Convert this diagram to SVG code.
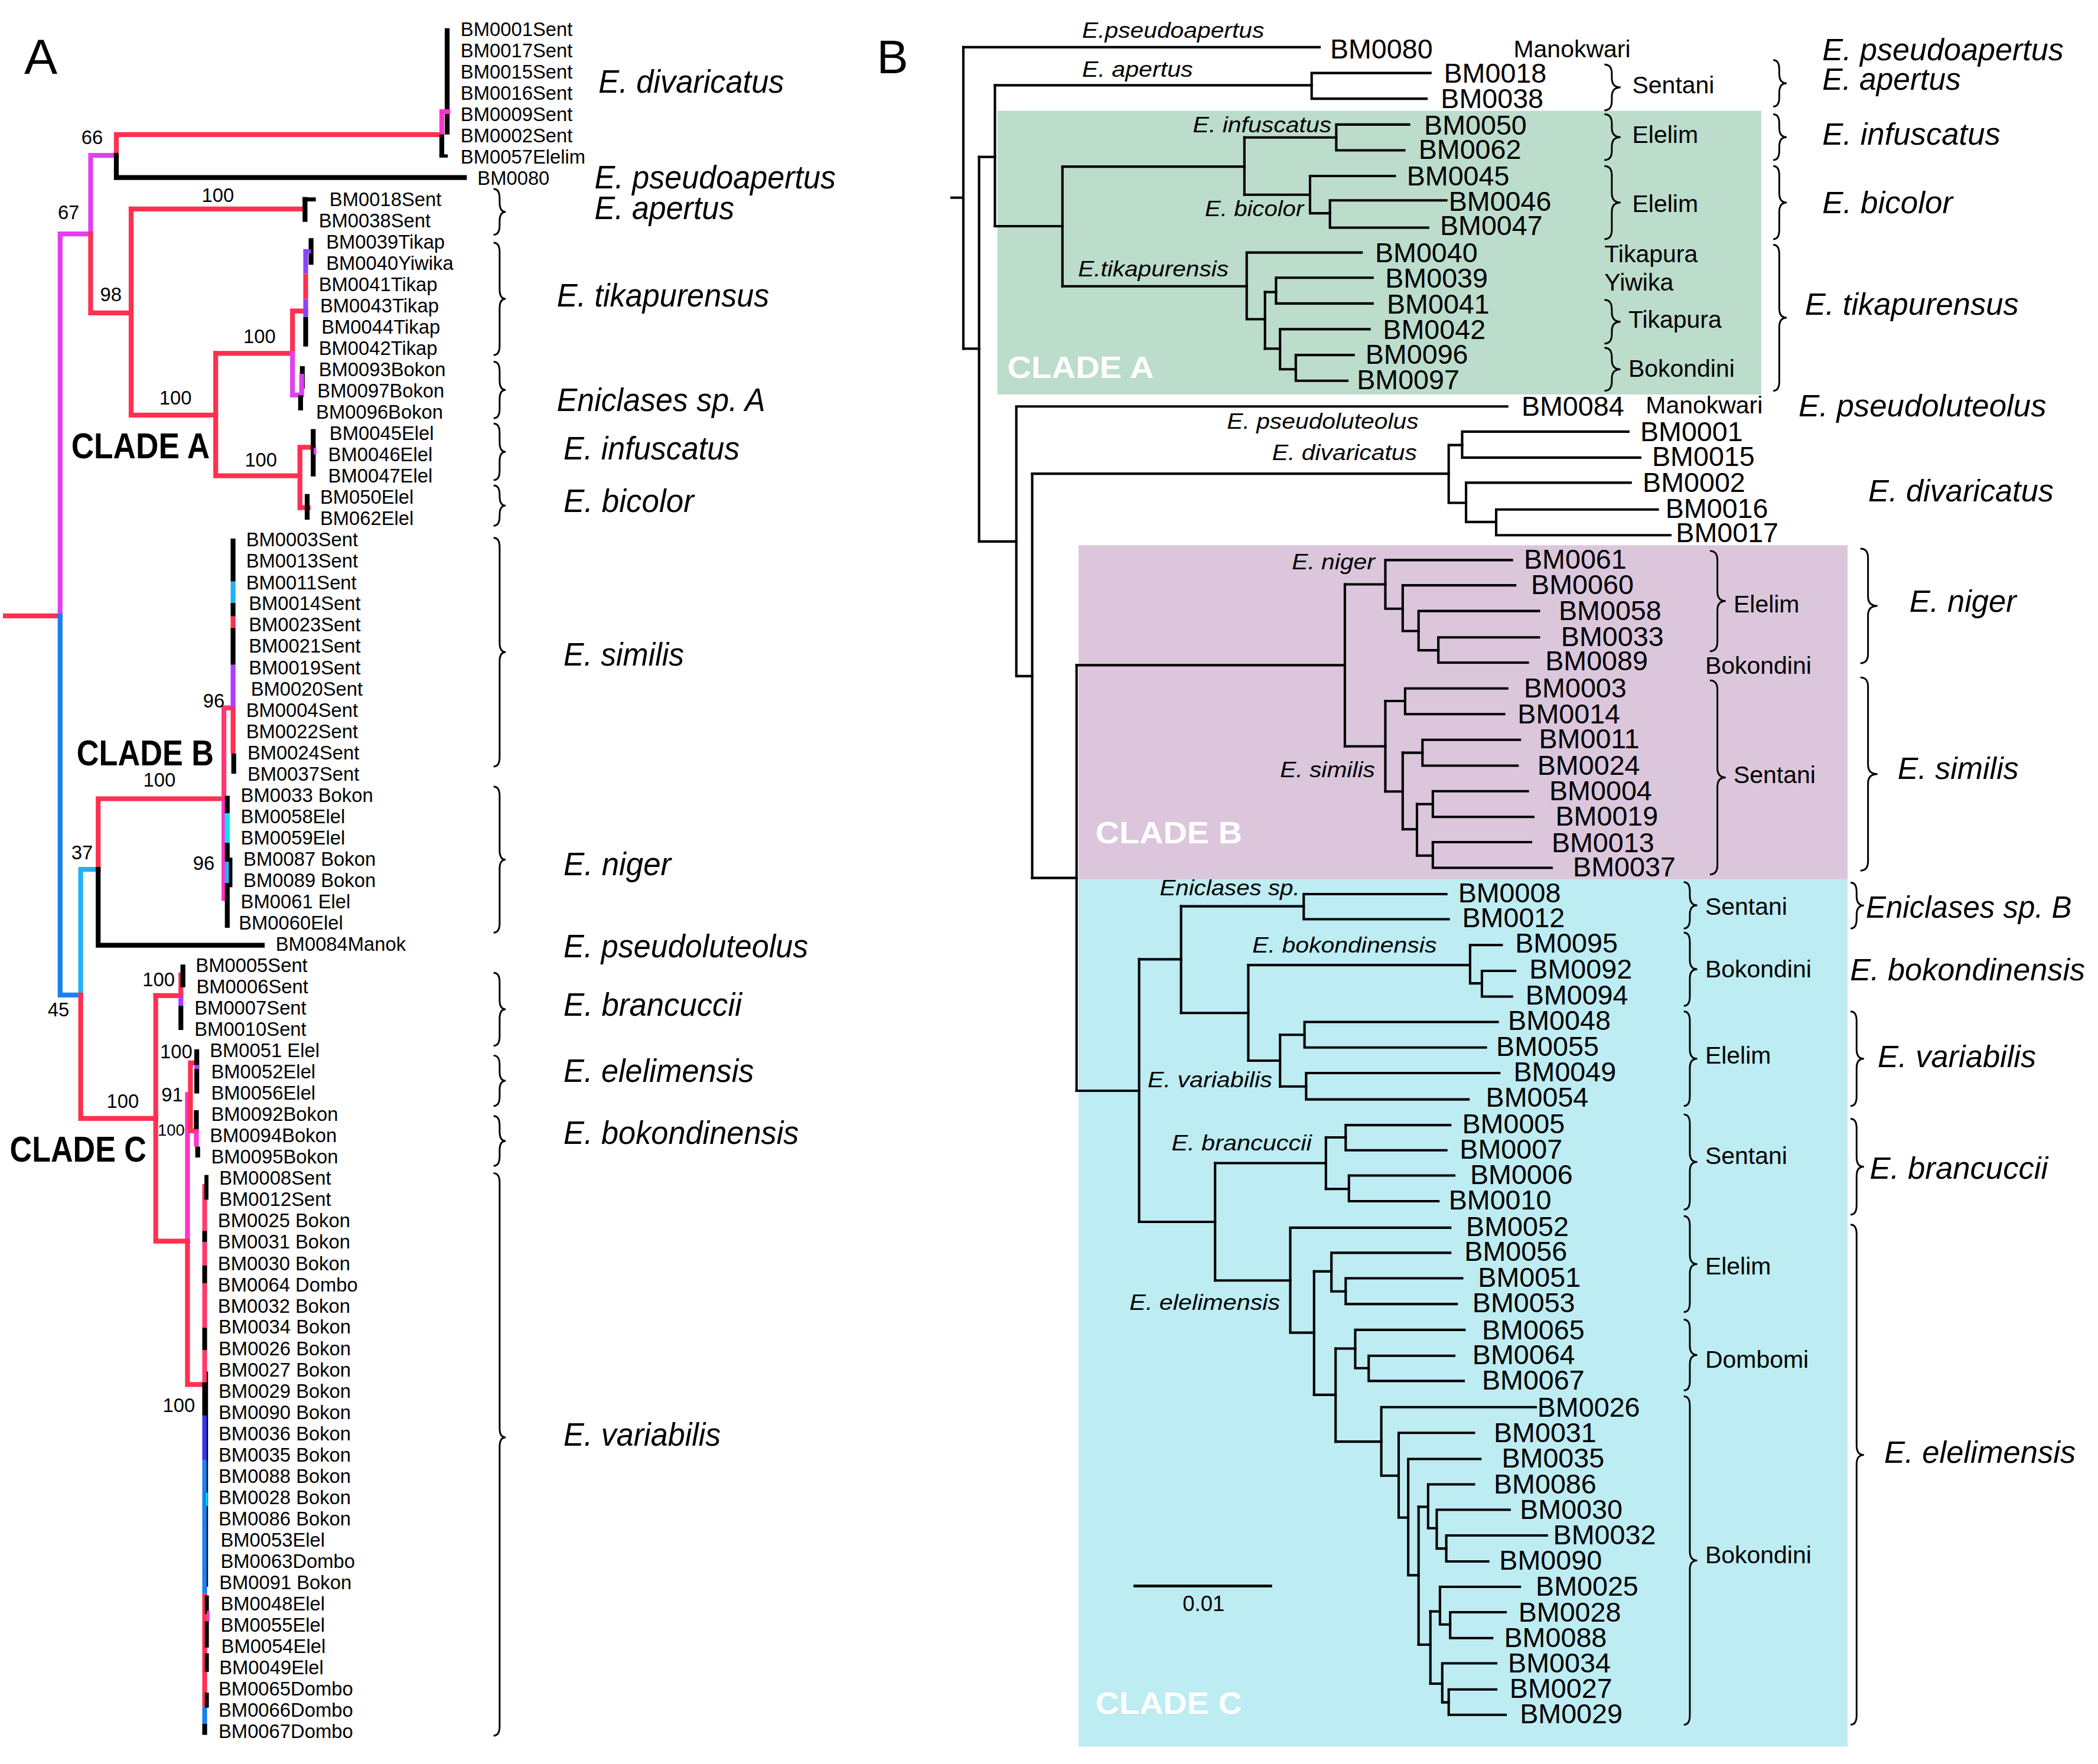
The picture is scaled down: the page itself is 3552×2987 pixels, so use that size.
<svg xmlns="http://www.w3.org/2000/svg" width="3552" height="2987" viewBox="0 0 3552 2987">
<style>
text{font-family:"Liberation Sans",Arial,Helvetica,sans-serif;fill:#000}
.la{font-size:14.4px}
.sv{font-size:14.4px;text-anchor:middle}
.sa{font-size:24px;font-style:italic}
.cl{font-size:27px;font-weight:bold}
.lb{font-size:20.5px}
.ib{font-size:16.5px;font-style:italic}
.loc{font-size:18px}
.sb{font-size:23px;font-style:italic}
.wc{font-size:22.5px;font-weight:bold;fill:#fff}
.br{fill:none;stroke:#000;stroke-width:1.3}
.ta{fill:none;stroke-width:3.6;stroke-linecap:square;stroke-linejoin:miter}
.sg{fill:none;stroke-width:3.6;stroke-linecap:butt}
.tb{fill:none;stroke:#000;stroke-width:1.8;stroke-linecap:square}
.r{stroke:#ff3050}.m{stroke:#e040f0}.k{stroke:#000}.bu{stroke:#1a80f0}.lc{stroke:#22b0f5}.cy{stroke:#00e5ff}.pu{stroke:#8844ff}.vi{stroke:#b03cff}.pk{stroke:#ff3a6e}.hp{stroke:#ff33cc}.db{stroke:#3535ee}
</style>
<rect x="0" y="0" width="3552" height="2987" fill="#fff"/>
<g transform="scale(2.276923)">

<!-- ================= PANEL A ================= -->
<text x="18" y="55" style="font-size:37px">A</text>

<g id="A-connectors">
<path class="ta r" d="M4,458H44.7"/>
<path class="ta m" d="M44.7,458V174H67.4V115.6H86.5"/>
<path class="ta r" d="M86.5,115.6V100.1H328.5"/>
<path class="ta k" d="M86.5,115.6V132H345.3"/>
<path class="ta r" d="M67.4,174V232.7H97.5"/>
<path class="ta r" d="M97.5,155.4V308.7H160.4"/>
<path class="ta r" d="M97.5,155.4H225.4"/>
<path class="ta r" d="M160.4,262.8V353.8H223"/>
<path class="ta r" d="M160.4,262.8H217.5V231.3H227.3"/>
<path class="ta m" d="M217.5,262.8V293.8H224.3"/>
<path class="ta r" d="M233,332.6H223V377.5H229.1"/>
<path class="ta bu" d="M44.7,458V740H60"/>
<path class="ta lc" d="M60,740V646.5H73"/>
<path class="ta r" d="M60,740V831.8H115.8"/>
<path class="ta r" d="M73,646.5V594H166.5"/>
<path class="ta k" d="M73,646.5V703H195"/>
<path class="ta pk" d="M166.5,594V526.4H173.3"/>
<path class="sg hp" d="M166.5,594V670"/>
<path class="sg hp" d="M166.5,656.8H171"/>
<path class="ta r" d="M115.8,740.4V923H139.4"/>
<path class="ta r" d="M115.8,740.4H134.5"/>
<path class="sg hp" d="M139.4,923V814H141.6"/>
<path class="ta r" d="M146.3,790.5H141.6V841H146"/>
<path class="ta r" d="M139.4,923V1029.6H150.8"/>
</g>

<g id="A-leaf-bars">
<!-- divaricatus -->
<path class="sg k" d="M332.5,21V100"/>
<path class="ta hp" d="M333,83H328.5V100"/>
<path class="sg k" d="M328.5,100V117"/>
<path class="sg k" style="stroke-width:2.4" d="M326.7,116H333"/>
<!-- apertus -->
<path class="sg k" d="M226.8,146.5V165"/>
<path class="sg k" style="stroke-width:3" d="M225,148.3H234.8"/>
<!-- tikap -->
<path class="sg pu" d="M227.3,185.2V203.5"/>
<path class="sg r" d="M227.3,203.5V222.5"/>
<path class="sg pu" d="M227.3,222.5V235.7"/>
<path class="sg k" d="M227.3,235.7V257.7"/>
<path class="sg k" d="M231.3,177.1V196.9"/>
<path class="sg pu" style="stroke-width:3" d="M227.3,187H231.3"/>
<!-- bokon A -->
<path class="sg k" d="M224.8,272.3V289"/>
<path class="sg m" d="M224.3,278V294"/>
<path class="sg k" d="M223.5,294V305.2"/>
<!-- infuscatus / bicolor -->
<path class="sg k" d="M232.9,319.1V354.3"/>
<path class="sg m" style="stroke-width:2" d="M234.2,333V338"/>
<path class="sg k" d="M228.4,367.4V386.5"/>
<!-- similis -->
<path class="sg k" d="M173.3,400.5V432.5"/>
<path class="sg lc" d="M173.3,432.5V448.4"/>
<path class="sg k" d="M173.3,448.4V458.4"/>
<path class="sg r" d="M173.3,458.4V467"/>
<path class="sg k" d="M173.3,467V494.4"/>
<path class="sg vi" d="M173.3,494.4V526.4"/>
<path class="sg r" d="M173.3,526.4V560.4"/>
<path class="sg k" d="M173.8,560.4V575.4"/>
<!-- niger -->
<path class="sg k" d="M169,591.8V604.8"/>
<path class="sg cy" d="M169,604.8V626.8"/>
<path class="sg k" d="M169,626.8V640.8"/>
<path class="sg lc" d="M169,640.8V656.8"/>
<path class="sg k" d="M169,656.8V690"/>
<path class="sg k" style="stroke-width:2.6" d="M171.5,637.8V659.8"/>
<!-- brancuccii -->
<path class="sg r" d="M134.5,723.2V741"/>
<path class="sg vi" d="M134.5,741V748"/>
<path class="sg k" d="M134.5,748V766"/>
<path class="sg k" d="M136,717.3V734.2"/>
<!-- elelimensis -->
<path class="sg k" d="M146.3,780.3V813.2"/>
<path class="sg vi" d="M146.3,792V795"/>
<!-- bokondinensis -->
<path class="sg k" d="M146,825.6V839.6"/>
<path class="sg hp" d="M146,841V852.7"/>
<path class="sg k" d="M147,852.7V860.8"/>
<!-- variabilis -->
<path class="sg pk" d="M152.2,880.6V915.4"/>
<path class="sg k" d="M152.2,915.4V923.7"/>
<path class="sg pk" d="M152.2,923.7V941.1"/>
<path class="sg k" d="M152.2,941.1V954.3"/>
<path class="sg pk" d="M152.2,954.3V987.4"/>
<path class="sg k" d="M152.2,987.4V1004"/>
<path class="sg pk" d="M152.2,1004V1028"/>
<path class="sg k" d="M152.2,1028V1053"/>
<path class="sg db" d="M152.2,1053V1086"/>
<path class="sg bu" d="M152.2,1086V1185"/>
<path class="sg r" d="M152.2,1185V1269.5"/>
<path class="sg bu" d="M152.2,1269.5V1282"/>
<path class="sg k" d="M152.2,1282V1290.2"/>
<path class="sg k" style="stroke-width:3" d="M153.5,873.8V892.2"/>
<path class="sg k" style="stroke-width:1" d="M154.2,1020V1180"/>
<path class="sg cy" style="stroke-width:1.2" d="M153.8,1110V1120"/>
<path class="sg k" style="stroke-width:3" d="M153.8,1186.5V1200.3"/>
<path class="sg hp" style="stroke-width:2" d="M154.8,1198V1206"/>
<path class="sg k" style="stroke-width:3" d="M153.8,1205.8V1225.3"/>
<path class="sg k" style="stroke-width:3" d="M153.8,1229.5V1243.4"/>
<path class="sg k" style="stroke-width:3" d="M153.8,1258.8V1270"/>
</g>

<g id="A-support" class="sv">
<text x="68.5" y="107.3">66</text>
<text x="51" y="162.8">67</text>
<text x="82.5" y="224">98</text>
<text x="162" y="150">100</text>
<text x="193" y="255">100</text>
<text x="130.5" y="301">100</text>
<text x="194" y="347">100</text>
<text x="159" y="526">96</text>
<text x="118.5" y="585">100</text>
<text x="61" y="639">37</text>
<text x="151.5" y="647">96</text>
<text x="43.5" y="756">45</text>
<text x="118" y="733.5">100</text>
<text x="131" y="787">100</text>
<text x="128" y="819">91</text>
<text x="127.3" y="844.5" style="font-size:12px">100</text>
<text x="91.3" y="824">100</text>
<text x="133" y="1050">100</text>
</g>

<g id="A-clades" class="cl">
<text x="53" y="341" textLength="103" lengthAdjust="spacingAndGlyphs">CLADE A</text>
<text x="57" y="569" textLength="102" lengthAdjust="spacingAndGlyphs">CLADE B</text>
<text x="7.3" y="864" textLength="101.6" lengthAdjust="spacingAndGlyphs">CLADE C</text>
</g>

<g id="A-leaves" class="la">
<text x="342.5" y="26.6">BM0001Sent</text>
<text x="342.5" y="42.4">BM0017Sent</text>
<text x="342.5" y="58.2">BM0015Sent</text>
<text x="342.5" y="74.1">BM0016Sent</text>
<text x="342.5" y="89.9">BM0009Sent</text>
<text x="342.5" y="105.7">BM0002Sent</text>
<text x="342.5" y="121.6">BM0057Elelim</text>
<text x="355" y="137.4">BM0080</text>
<text x="245" y="153.2">BM0018Sent</text>
<text x="237" y="169">BM0038Sent</text>
<text x="242.5" y="184.9">BM0039Tikap</text>
<text x="242.5" y="200.7">BM0040Yiwika</text>
<text x="237" y="216.5">BM0041Tikap</text>
<text x="238" y="232.3">BM0043Tikap</text>
<text x="239" y="248.2">BM0044Tikap</text>
<text x="237" y="264">BM0042Tikap</text>
<text x="237" y="279.8">BM0093Bokon</text>
<text x="236" y="295.6">BM0097Bokon</text>
<text x="235" y="311.5">BM0096Bokon</text>
<text x="245" y="327.3">BM0045Elel</text>
<text x="244" y="343.1">BM0046Elel</text>
<text x="244" y="358.9">BM0047Elel</text>
<text x="238" y="374.8">BM050Elel</text>
<text x="238" y="390.6">BM062Elel</text>
<text x="183" y="406.4">BM0003Sent</text>
<text x="183" y="422.2">BM0013Sent</text>
<text x="183" y="438.1">BM0011Sent</text>
<text x="185" y="453.9">BM0014Sent</text>
<text x="185" y="469.7">BM0023Sent</text>
<text x="185" y="485.5">BM0021Sent</text>
<text x="185" y="501.4">BM0019Sent</text>
<text x="186.5" y="517.2">BM0020Sent</text>
<text x="183" y="533">BM0004Sent</text>
<text x="183" y="548.8">BM0022Sent</text>
<text x="184" y="564.7">BM0024Sent</text>
<text x="184" y="580.5">BM0037Sent</text>
<text x="179" y="596.3">BM0033 Bokon</text>
<text x="179" y="612.1">BM0058Elel</text>
<text x="179" y="628">BM0059Elel</text>
<text x="181" y="643.8">BM0087 Bokon</text>
<text x="181" y="659.6">BM0089 Bokon</text>
<text x="179" y="675.4">BM0061 Elel</text>
<text x="177.5" y="691.3">BM0060Elel</text>
<text x="205" y="707.1">BM0084Manok</text>
<text x="145.5" y="722.9">BM0005Sent</text>
<text x="146" y="738.7">BM0006Sent</text>
<text x="144.6" y="754.6">BM0007Sent</text>
<text x="144.6" y="770.4">BM0010Sent</text>
<text x="156" y="786.2">BM0051 Elel</text>
<text x="157" y="802">BM0052Elel</text>
<text x="157" y="817.9">BM0056Elel</text>
<text x="157" y="833.7">BM0092Bokon</text>
<text x="156" y="849.5">BM0094Bokon</text>
<text x="157" y="865.3">BM0095Bokon</text>
<text x="163" y="881.2">BM0008Sent</text>
<text x="163" y="897">BM0012Sent</text>
<text x="162" y="912.8">BM0025 Bokon</text>
<text x="162" y="928.6">BM0031 Bokon</text>
<text x="162" y="944.5">BM0030 Bokon</text>
<text x="162" y="960.3">BM0064 Dombo</text>
<text x="162" y="976.1">BM0032 Bokon</text>
<text x="162.5" y="991.9">BM0034 Bokon</text>
<text x="162.5" y="1007.8">BM0026 Bokon</text>
<text x="162.5" y="1023.6">BM0027 Bokon</text>
<text x="162.5" y="1039.4">BM0029 Bokon</text>
<text x="162.5" y="1055.2">BM0090 Bokon</text>
<text x="162.5" y="1071.1">BM0036 Bokon</text>
<text x="162.5" y="1086.9">BM0035 Bokon</text>
<text x="162.5" y="1102.7">BM0088 Bokon</text>
<text x="162.5" y="1118.5">BM0028 Bokon</text>
<text x="162.5" y="1134.4">BM0086 Bokon</text>
<text x="164" y="1150.2">BM0053Elel</text>
<text x="164" y="1166">BM0063Dombo</text>
<text x="163" y="1181.8">BM0091 Bokon</text>
<text x="164" y="1197.7">BM0048Elel</text>
<text x="164" y="1213.5">BM0055Elel</text>
<text x="164.5" y="1229.3">BM0054Elel</text>
<text x="163" y="1245.1">BM0049Elel</text>
<text x="162.5" y="1261">BM0065Dombo</text>
<text x="162.5" y="1276.8">BM0066Dombo</text>
<text x="162.5" y="1292.6">BM0067Dombo</text>
</g>

<g id="A-braces" class="br">
<path d="M367,140.5 Q371.5,140.5 371.5,147.5 L371.5,150.55 Q371.5,157.55 376,157.55 Q371.5,157.55 371.5,164.55 L371.5,167.6 Q371.5,174.6 367,174.6"/>
<path d="M367,180.5 Q371.5,180.5 371.5,187.5 L371.5,215.25 Q371.5,222.25 376,222.25 Q371.5,222.25 371.5,229.25 L371.5,257 Q371.5,264 367,264"/>
<path d="M367,269 Q371.5,269 371.5,276 L371.5,283 Q371.5,290 376,290 Q371.5,290 371.5,297 L371.5,304 Q371.5,311 367,311"/>
<path d="M367,315 Q371.5,315 371.5,322 L371.5,329 Q371.5,336 376,336 Q371.5,336 371.5,343 L371.5,350 Q371.5,357 367,357"/>
<path d="M367,361 Q371.5,361 371.5,368 L371.5,369 Q371.5,376 376,376 Q371.5,376 371.5,383 L371.5,384 Q371.5,391 367,391"/>
<path d="M367,400 Q371.5,400 371.5,407 L371.5,478 Q371.5,485 376,485 Q371.5,485 371.5,492 L371.5,563 Q371.5,570 367,570"/>
<path d="M367,585 Q371.5,585 371.5,592 L371.5,632.3 Q371.5,639.3 376,639.3 Q371.5,639.3 371.5,646.3 L371.5,686.6 Q371.5,693.6 367,693.6"/>
<path d="M367,723.5 Q371.5,723.5 371.5,730.5 L371.5,743.6 Q371.5,750.6 376,750.6 Q371.5,750.6 371.5,757.6 L371.5,770.7 Q371.5,777.7 367,777.7"/>
<path d="M367,785 Q371.5,785 371.5,792 L371.5,796.75 Q371.5,803.75 376,803.75 Q371.5,803.75 371.5,810.75 L371.5,815.5 Q371.5,822.5 367,822.5"/>
<path d="M367,830 Q371.5,830 371.5,837 L371.5,841.5 Q371.5,848.5 376,848.5 Q371.5,848.5 371.5,855.5 L371.5,860 Q371.5,867 367,867"/>
<path d="M367,872.5 Q371.5,872.5 371.5,879.5 L371.5,1062 Q371.5,1069 376,1069 Q371.5,1069 371.5,1076 L371.5,1283.8 Q371.5,1290.8 367,1290.8"/>
</g>

<g id="A-species" class="sa">
<text x="445" y="69" textLength="138" lengthAdjust="spacingAndGlyphs">E. divaricatus</text>
<text x="442" y="140" textLength="179.5" lengthAdjust="spacingAndGlyphs">E. pseudoapertus</text>
<text x="442" y="163" textLength="104" lengthAdjust="spacingAndGlyphs">E. apertus</text>
<text x="414" y="228" textLength="158" lengthAdjust="spacingAndGlyphs">E. tikapurensus</text>
<text x="414" y="305.5" textLength="155" lengthAdjust="spacingAndGlyphs">Eniclases sp. A</text>
<text x="419" y="341.6" textLength="131" lengthAdjust="spacingAndGlyphs">E. infuscatus</text>
<text x="419" y="380.8" textLength="97" lengthAdjust="spacingAndGlyphs">E. bicolor</text>
<text x="419" y="495" textLength="89.6" lengthAdjust="spacingAndGlyphs">E. similis</text>
<text x="419" y="650.7" textLength="80" lengthAdjust="spacingAndGlyphs">E. niger</text>
<text x="419" y="712" textLength="182" lengthAdjust="spacingAndGlyphs">E. pseudoluteolus</text>
<text x="419" y="755.4" textLength="132.6" lengthAdjust="spacingAndGlyphs">E. brancuccii</text>
<text x="419" y="804.4" textLength="141.6" lengthAdjust="spacingAndGlyphs">E. elelimensis</text>
<text x="419" y="850.8" textLength="175" lengthAdjust="spacingAndGlyphs">E. bokondinensis</text>
<text x="419" y="1075" textLength="117" lengthAdjust="spacingAndGlyphs">E. variabilis</text>
</g>

<!-- ================= PANEL B ================= -->
<text x="652" y="54.3" style="font-size:35px">B</text>

<g id="B-clade-boxes">
<rect id="cladeA-box" x="741.6" y="82.4" width="568.1" height="211" fill="#bcdccc"/>
<rect id="cladeB-box" x="802" y="405.5" width="571.8" height="248.4" fill="#dbc6dc"/>
<rect id="cladeC-box" x="802" y="653.9" width="571.8" height="645" fill="#bdecf2"/>
<text class="wc" x="749" y="281" textLength="109" lengthAdjust="spacingAndGlyphs">CLADE A</text>
<text class="wc" x="814.6" y="627" textLength="109" lengthAdjust="spacingAndGlyphs">CLADE B</text>
<text class="wc" x="814.6" y="1274.6" textLength="109" lengthAdjust="spacingAndGlyphs">CLADE C</text>
</g>

<g id="B-connectors" class="tb">
<path d="M707.5,147H716.3"/>
<path d="M716.3,35.1V259.3"/>
<path d="M716.3,35.1H981.2"/>
<path d="M716.3,259.3H728"/>
<path d="M728,116.7V402.7"/>
<path d="M728,116.7H739.8"/>
<path d="M739.8,63.4V168.2"/>
<path d="M739.8,63.4H975.3"/>
<path d="M1063.6,54.3H975.3V73.4H1060.7"/>
<path d="M739.8,168.2H790"/>
<path d="M790,123.9V212.9"/>
<path d="M790,123.9H925.3"/>
<path d="M925.3,102.2V144.8"/>
<path d="M925.3,102.2H993.6"/>
<path d="M1047.7,92.6H993.6V111.8H1044.2"/>
<path d="M925.3,144.8H974.1"/>
<path d="M1037.1,130.9H974.1V158.6H988.9"/>
<path d="M1075.4,149H988.9V169.3H1061.9"/>
<path d="M790,212.9H927"/>
<path d="M1012.4,187.8H927V237.4H940.6"/>
<path d="M940.6,217.2V259.3"/>
<path d="M940.6,217.2H948.8"/>
<path d="M1020.6,206.5H948.8V225.7H1020.6"/>
<path d="M940.6,259.3H951.8"/>
<path d="M1018.3,244.8H951.8V274.6H963.5"/>
<path d="M1006.5,264H963.5V283.2H1001.8"/>
<path d="M728,402.7H755.7"/>
<path d="M1120.7,302.3H755.7V502.8H767.5"/>
<path d="M767.5,352.3V652.9"/>
<path d="M767.5,352.3H1077.2"/>
<path d="M1087.2,331H1077.2V374H1090.1"/>
<path d="M1210.8,321H1087.2V340.3H1219.6"/>
<path d="M1212.5,359H1090.1V388.2H1112.5"/>
<path d="M1232.6,378.9H1112.5V398H1242"/>
<path d="M767.5,652.9H800.5"/>
<path d="M800.5,494.7V811.2"/>
<path d="M800.5,494.7H1000"/>
<path d="M1000,434.6V555"/>
<path d="M1000,434.6H1030.1"/>
<path d="M1124.2,416.5H1030.1V452.7H1043"/>
<path d="M1126.6,435.3H1043V469.3H1054.8"/>
<path d="M1144.3,454.4H1054.8V483.6H1069.5"/>
<path d="M1144.3,474H1069.5V492.8H1136"/>
<path d="M1000,555H1030.1"/>
<path d="M1030.1,521.3V588.6"/>
<path d="M1120.7,512H1044.8V531.1H1118.4"/>
<path d="M1030.1,521.3H1044.8"/>
<path d="M1030.1,588.6H1043"/>
<path d="M1043,559.8V616.7"/>
<path d="M1043,559.8H1057.7"/>
<path d="M1130.1,550.2H1057.7V569.4H1128.4"/>
<path d="M1043,616.7H1053.6"/>
<path d="M1053.6,598V636.3"/>
<path d="M1053.6,598H1065.4"/>
<path d="M1136,588.4H1065.4V607.5H1140.1"/>
<path d="M1053.6,636.3H1065.4"/>
<path d="M1138.4,626.3H1065.4V645.4H1153.7"/>
<path d="M800.5,811.2H847"/>
<path d="M847,713.4V908.7"/>
<path d="M847,713.4H878.2"/>
<path d="M878.2,674V753.3"/>
<path d="M878.2,674H969.4"/>
<path d="M1075.4,664.9H969.4V683.6H1077.2"/>
<path d="M878.2,753.3H928.2"/>
<path d="M928.2,717.7V788.8"/>
<path d="M928.2,717.7H1093.1"/>
<path d="M1116.6,702.8H1093.1V731.3H1101.9"/>
<path d="M1126.6,722H1101.9V741.1H1124.2"/>
<path d="M928.2,788.8H951.8"/>
<path d="M951.8,769.6V808"/>
<path d="M951.8,769.6H970"/>
<path d="M1113.6,760H970V779H1104.8"/>
<path d="M951.8,808H971.2"/>
<path d="M1114.8,798H971.2V817.6H1091.9"/>
<path d="M847,908.7H903.5"/>
<path d="M903.5,865V952.3"/>
<path d="M903.5,865H985.9"/>
<path d="M985.9,845.9V884.2"/>
<path d="M985.9,845.9H1000.6"/>
<path d="M1078.3,836.7H1000.6V855.4H1075.4"/>
<path d="M985.9,884.2H1003"/>
<path d="M1081.3,874.2H1003V893.3H1069.5"/>
<path d="M903.5,952.3H959.4"/>
<path d="M1078.3,913H959.4V991.1H977.1"/>
<path d="M977.1,945.5V1037.3"/>
<path d="M977.1,945.5H990"/>
<path d="M1078.3,931.7H990V960.4H1000.6"/>
<path d="M1087.2,950.6H1000.6V969.8H1083.1"/>
<path d="M977.1,1037.3H993.1"/>
<path d="M993.1,1002.9V1072.1"/>
<path d="M993.1,1002.9H1007.7"/>
<path d="M1088.9,989H1007.7V1017.5H1017.7"/>
<path d="M1081.3,1008.3H1017.7V1027H1088.3"/>
<path d="M993.1,1072.1H1027.1"/>
<path d="M1141.9,1046.5H1027.1V1097.4H1040"/>
<path d="M1096,1065.6H1040V1128.6H1047.1"/>
<path d="M1100.7,1085H1047.1V1171.5H1054.8"/>
<path d="M1054.8,1120.6V1223.1"/>
<path d="M1054.8,1120.6H1061.9"/>
<path d="M1096,1103.9H1061.9V1136.5H1068.3"/>
<path d="M1122.5,1122.8H1068.3V1151.6H1075.4"/>
<path d="M1150.2,1141.9H1075.4V1161.2H1106.6"/>
<path d="M1054.8,1223.1H1063.6"/>
<path d="M1063.6,1198.4V1252.1"/>
<path d="M1063.6,1198.4H1070.7"/>
<path d="M1130.1,1180.1H1070.7V1208.1H1078.3"/>
<path d="M1119.5,1199H1078.3V1218.2H1109.5"/>
<path d="M1063.6,1252.1H1072.4"/>
<path d="M1112.5,1237H1072.4V1266H1077.2"/>
<path d="M1112.5,1256.4H1077.2V1275.3H1119.5"/>
<path d="M842.8,1179.5H945.9" style="stroke-width:2;stroke-linecap:butt"/>
</g>
<text x="879.4" y="1198" style="font-size:16px">0.01</text>

<g id="B-leaves" class="lb">
<text x="989" y="43.6">BM0080</text>
<text x="1073.6" y="61.7">BM0018</text>
<text x="1071.3" y="80.5">BM0038</text>
<text x="1058.9" y="100">BM0050</text>
<text x="1054.8" y="118.2">BM0062</text>
<text x="1046" y="138">BM0045</text>
<text x="1077.2" y="157">BM0046</text>
<text x="1070.7" y="175">BM0047</text>
<text x="1022.4" y="194.8">BM0040</text>
<text x="1030" y="214">BM0039</text>
<text x="1031.2" y="233.1">BM0041</text>
<text x="1028.3" y="252.3">BM0042</text>
<text x="1015.3" y="270.4">BM0096</text>
<text x="1008.9" y="289.5">BM0097</text>
<text x="1131.3" y="309">BM0084</text>
<text x="1219.6" y="328">BM0001</text>
<text x="1228.4" y="346.7">BM0015</text>
<text x="1221.4" y="366">BM0002</text>
<text x="1238.4" y="385.2">BM0016</text>
<text x="1246.1" y="403.3">BM0017</text>
<text x="1133.1" y="423">BM0061</text>
<text x="1138.4" y="442">BM0060</text>
<text x="1159" y="461.3">BM0058</text>
<text x="1160.7" y="480.4">BM0033</text>
<text x="1149" y="498.5">BM0089</text>
<text x="1133.1" y="518.7">BM0003</text>
<text x="1128.4" y="537.9">BM0014</text>
<text x="1144.3" y="556.6">BM0011</text>
<text x="1143.1" y="576.2">BM0024</text>
<text x="1152" y="595">BM0004</text>
<text x="1156.6" y="614.1">BM0019</text>
<text x="1153.7" y="633.7">BM0013</text>
<text x="1169.6" y="651.8">BM0037</text>
<text x="1084.2" y="670.9">BM0008</text>
<text x="1087.2" y="689.4">BM0012</text>
<text x="1126.6" y="708.5">BM0095</text>
<text x="1137.2" y="727.7">BM0092</text>
<text x="1134.3" y="746.9">BM0094</text>
<text x="1121.3" y="766">BM0048</text>
<text x="1112.5" y="785.2">BM0055</text>
<text x="1125.4" y="804">BM0049</text>
<text x="1104.8" y="822.9">BM0054</text>
<text x="1087.2" y="842.7">BM0005</text>
<text x="1085.4" y="861.8">BM0007</text>
<text x="1093.1" y="880.6">BM0006</text>
<text x="1077.2" y="899.5">BM0010</text>
<text x="1090.1" y="919.3">BM0052</text>
<text x="1088.9" y="937.8">BM0056</text>
<text x="1099" y="957.2">BM0051</text>
<text x="1094.8" y="975.7">BM0053</text>
<text x="1101.9" y="996">BM0065</text>
<text x="1094.8" y="1014.7">BM0064</text>
<text x="1101.9" y="1033.4">BM0067</text>
<text x="1143.1" y="1053.4">BM0026</text>
<text x="1110.7" y="1072.7">BM0031</text>
<text x="1116.6" y="1091.4">BM0035</text>
<text x="1110.7" y="1110.8">BM0086</text>
<text x="1130.1" y="1129.7">BM0030</text>
<text x="1154.9" y="1148.6">BM0032</text>
<text x="1114.8" y="1167.2">BM0090</text>
<text x="1141.9" y="1186.6">BM0025</text>
<text x="1129" y="1205.9">BM0028</text>
<text x="1118.4" y="1224.8">BM0088</text>
<text x="1121.3" y="1243.9">BM0034</text>
<text x="1122.5" y="1262.8">BM0027</text>
<text x="1130.1" y="1281.7">BM0029</text>
</g>

<g id="B-clade-names" class="ib">
<text x="804.6" y="28" textLength="135.4" lengthAdjust="spacingAndGlyphs">E.pseudoapertus</text>
<text x="804.6" y="57" textLength="82.4" lengthAdjust="spacingAndGlyphs">E. apertus</text>
<text x="887" y="98.4" textLength="103" lengthAdjust="spacingAndGlyphs">E. infuscatus</text>
<text x="896" y="160.7" textLength="73.4" lengthAdjust="spacingAndGlyphs">E. bicolor</text>
<text x="801.6" y="205.4" textLength="111.9" lengthAdjust="spacingAndGlyphs">E.tikapurensis</text>
<text x="912.3" y="319" textLength="142.5" lengthAdjust="spacingAndGlyphs">E. pseudoluteolus</text>
<text x="945.9" y="342" textLength="107.7" lengthAdjust="spacingAndGlyphs">E. divaricatus</text>
<text x="960.6" y="423.4" textLength="61.8" lengthAdjust="spacingAndGlyphs">E. niger</text>
<text x="951.8" y="578" textLength="70.6" lengthAdjust="spacingAndGlyphs">E. similis</text>
<text x="862.3" y="666" textLength="104.2" lengthAdjust="spacingAndGlyphs">Eniclases sp.</text>
<text x="931.2" y="708.5" textLength="137.1" lengthAdjust="spacingAndGlyphs">E. bokondinensis</text>
<text x="853.4" y="808.6" textLength="92.5" lengthAdjust="spacingAndGlyphs">E. variabilis</text>
<text x="871.1" y="855.5" textLength="104.2" lengthAdjust="spacingAndGlyphs">E. brancuccii</text>
<text x="839.9" y="974" textLength="111.9" lengthAdjust="spacingAndGlyphs">E. elelimensis</text>
</g>

<g id="B-localities" class="loc">
<text x="1125.4" y="42.6">Manokwari</text>
<text x="1213.7" y="69.2">Sentani</text>
<text x="1213.7" y="106.5">Elelim</text>
<text x="1213.7" y="157.5">Elelim</text>
<text x="1193" y="194.8">Tikapura</text>
<text x="1193" y="216">Yiwika</text>
<text x="1210.8" y="243.8">Tikapura</text>
<text x="1210.8" y="280">Bokondini</text>
<text x="1223.7" y="307.6">Manokwari</text>
<text x="1289" y="455.3">Elelim</text>
<text x="1267.9" y="501.3">Bokondini</text>
<text x="1289" y="582.2">Sentani</text>
<text x="1267.9" y="680.2">Sentani</text>
<text x="1267.9" y="727">Bokondini</text>
<text x="1267.9" y="791">Elelim</text>
<text x="1267.9" y="865.5">Sentani</text>
<text x="1267.9" y="947.6">Elelim</text>
<text x="1267.9" y="1017.3">Dombomi</text>
<text x="1267.9" y="1162.5">Bokondini</text>
</g>

<g id="B-braces" class="br">
<path d="M1193,48 Q1198.5,48 1198.5,55 L1198.5,58 Q1198.5,65 1205,65 Q1198.5,65 1198.5,72 L1198.5,75 Q1198.5,82 1193,82"/>
<path d="M1193,85 Q1198.5,85 1198.5,92 L1198.5,95 Q1198.5,102 1205,102 Q1198.5,102 1198.5,109 L1198.5,112 Q1198.5,119 1193,119"/>
<path d="M1193,123.5 Q1198.5,123.5 1198.5,130.5 L1198.5,143.65 Q1198.5,150.65 1205,150.65 Q1198.5,150.65 1198.5,157.65 L1198.5,170.8 Q1198.5,177.8 1193,177.8"/>
<path d="M1193,223 Q1198.5,223 1198.5,230 L1198.5,232.25 Q1198.5,239.25 1205,239.25 Q1198.5,239.25 1198.5,246.25 L1198.5,248.5 Q1198.5,255.5 1193,255.5"/>
<path d="M1193,258.7 Q1198.5,258.7 1198.5,265.7 L1198.5,267.65 Q1198.5,274.65 1205,274.65 Q1198.5,274.65 1198.5,281.65 L1198.5,283.6 Q1198.5,290.6 1193,290.6"/>
<path d="M1271.4,409.7 Q1277,409.7 1277,416.7 L1277,440 Q1277,447 1283.2,447 Q1277,447 1277,454 L1277,477.3 Q1277,484.3 1271.4,484.3"/>
<path d="M1271.4,506 Q1277,506 1277,513 L1277,571.15 Q1277,578.15 1283.2,578.15 Q1277,578.15 1277,585.15 L1277,643.3 Q1277,650.3 1271.4,650.3"/>
<path d="M1252,656 Q1256.5,656 1256.5,663 L1256.5,666.25 Q1256.5,673.25 1262,673.25 Q1256.5,673.25 1256.5,680.25 L1256.5,683.5 Q1256.5,690.5 1252,690.5"/>
<path d="M1252,693.6 Q1256.5,693.6 1256.5,700.6 L1256.5,713.8 Q1256.5,720.8 1262,720.8 Q1256.5,720.8 1256.5,727.8 L1256.5,741 Q1256.5,748 1252,748"/>
<path d="M1252,752.2 Q1256.5,752.2 1256.5,759.2 L1256.5,780.35 Q1256.5,787.35 1262,787.35 Q1256.5,787.35 1256.5,794.35 L1256.5,815.5 Q1256.5,822.5 1252,822.5"/>
<path d="M1252,828.8 Q1256.5,828.8 1256.5,835.8 L1256.5,857.15 Q1256.5,864.15 1262,864.15 Q1256.5,864.15 1256.5,871.15 L1256.5,892.5 Q1256.5,899.5 1252,899.5"/>
<path d="M1252,904.4 Q1256.5,904.4 1256.5,911.4 L1256.5,933.05 Q1256.5,940.05 1262,940.05 Q1256.5,940.05 1256.5,947.05 L1256.5,968.7 Q1256.5,975.7 1252,975.7"/>
<path d="M1252,981.4 Q1256.5,981.4 1256.5,988.4 L1256.5,1000.7 Q1256.5,1007.7 1262,1007.7 Q1256.5,1007.7 1256.5,1014.7 L1256.5,1027 Q1256.5,1034 1252,1034"/>
<path d="M1252,1038.4 Q1256.5,1038.4 1256.5,1045.4 L1256.5,1153.5 Q1256.5,1160.5 1262,1160.5 Q1256.5,1160.5 1256.5,1167.5 L1256.5,1275.6 Q1256.5,1282.6 1252,1282.6"/>
<path d="M1318.5,44.7 Q1323,44.7 1323,51.7 L1323,54.95 Q1323,61.95 1328.5,61.95 Q1323,61.95 1323,68.95 L1323,72.2 Q1323,79.2 1318.5,79.2"/>
<path d="M1318.5,85 Q1323,85 1323,92 L1323,95 Q1323,102 1328.5,102 Q1323,102 1323,109 L1323,112 Q1323,119 1318.5,119"/>
<path d="M1318.5,123.5 Q1323,123.5 1323,130.5 L1323,143.65 Q1323,150.65 1328.5,150.65 Q1323,150.65 1323,157.65 L1323,170.8 Q1323,177.8 1318.5,177.8"/>
<path d="M1318.5,182 Q1323,182 1323,189 L1323,229.3 Q1323,236.3 1328.5,236.3 Q1323,236.3 1323,243.3 L1323,283.6 Q1323,290.6 1318.5,290.6"/>
<path d="M1383.3,408 Q1389,408 1389,415 L1389,443.6 Q1389,450.6 1396,450.6 Q1389,450.6 1389,457.6 L1389,486.2 Q1389,493.2 1383.3,493.2"/>
<path d="M1383.3,503.8 Q1389,503.8 1389,510.8 L1389,568.65 Q1389,575.65 1396,575.65 Q1389,575.65 1389,582.65 L1389,640.5 Q1389,647.5 1383.3,647.5"/>
<path d="M1376,656.4 Q1380.5,656.4 1380.5,663.4 L1380.5,666.45 Q1380.5,673.45 1386,673.45 Q1380.5,673.45 1380.5,680.45 L1380.5,683.5 Q1380.5,690.5 1376,690.5"/>
<path d="M1376,752.2 Q1380.5,752.2 1380.5,759.2 L1380.5,780.35 Q1380.5,787.35 1386,787.35 Q1380.5,787.35 1380.5,794.35 L1380.5,815.5 Q1380.5,822.5 1376,822.5"/>
<path d="M1376,832 Q1380.5,832 1380.5,839 L1380.5,860.65 Q1380.5,867.65 1386,867.65 Q1380.5,867.65 1380.5,874.65 L1380.5,896.3 Q1380.5,903.3 1376,903.3"/>
<path d="M1376,910.8 Q1380.5,910.8 1380.5,917.8 L1380.5,1075 Q1380.5,1082 1386,1082 Q1380.5,1082 1380.5,1089 L1380.5,1275.6 Q1380.5,1282.6 1376,1282.6"/>
</g>

<g id="B-species" class="sb">
<text x="1355" y="44.7" textLength="179.5" lengthAdjust="spacingAndGlyphs">E. pseudoapertus</text>
<text x="1355" y="66.6" textLength="103" lengthAdjust="spacingAndGlyphs">E. apertus</text>
<text x="1355" y="107.5" textLength="132.5" lengthAdjust="spacingAndGlyphs">E. infuscatus</text>
<text x="1355" y="158.6" textLength="97" lengthAdjust="spacingAndGlyphs">E. bicolor</text>
<text x="1342" y="234.2" textLength="159" lengthAdjust="spacingAndGlyphs">E. tikapurensus</text>
<text x="1337.3" y="309.8" textLength="184.3" lengthAdjust="spacingAndGlyphs">E. pseudoluteolus</text>
<text x="1389.2" y="372.9" textLength="137.8" lengthAdjust="spacingAndGlyphs">E. divaricatus</text>
<text x="1419.8" y="454.9" textLength="79.5" lengthAdjust="spacingAndGlyphs">E. niger</text>
<text x="1411" y="579.4" textLength="90" lengthAdjust="spacingAndGlyphs">E. similis</text>
<text x="1387.4" y="682.4" textLength="153.1" lengthAdjust="spacingAndGlyphs">Eniclases sp. B</text>
<text x="1375.6" y="729.2" textLength="174.8" lengthAdjust="spacingAndGlyphs">E. bokondinensis</text>
<text x="1396.2" y="793.7" textLength="117.8" lengthAdjust="spacingAndGlyphs">E. variabilis</text>
<text x="1390.3" y="876.7" textLength="132.5" lengthAdjust="spacingAndGlyphs">E. brancuccii</text>
<text x="1401" y="1087.8" textLength="142.4" lengthAdjust="spacingAndGlyphs">E. elelimensis</text>
</g>

</g>
</svg>
